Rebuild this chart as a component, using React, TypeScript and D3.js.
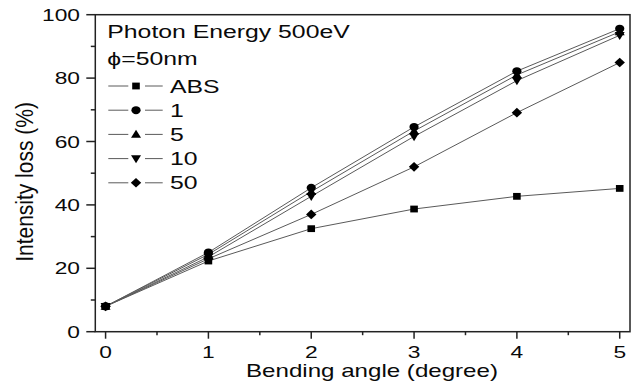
import * as d3 from 'd3'
import React, { useEffect, useRef } from 'react'

const angles = [0, 1, 2, 3, 4, 5]
const seriesNames = ['ABS', '1', '5', '10', '50']
const absLoss = [8.0, 22.3, 32.5, 38.7, 42.7, 45.2]
const loss1 = [8.0, 25.0, 45.4, 64.6, 82.2, 95.6]
const loss5 = [8.0, 24.4, 44.2, 63.3, 81.0, 94.6]
const loss10 = [8.0, 23.6, 42.7, 61.6, 79.2, 93.5]
const loss50 = [8.0, 23.0, 37.0, 52.0, 69.1, 84.9]
const xTicks = [0, 1, 2, 3, 4, 5]
const yTicks = [0, 20, 40, 60, 80, 100]

const symbols = ['square', 'circle', 'up', 'down', 'diamond']

const W = 640
const H = 387
const SX = 1.34 // the original picture is stretched horizontally
const FONT = '"Liberation Sans", Arial, sans-serif'

function drawMarker(g: any, kind: string, cx: number, cy: number) {
  if (kind === 'square') {
    g.append('rect').attr('x', cx - 3.8).attr('y', cy - 3.4).attr('width', 7.6).attr('height', 6.8).attr('fill', '#000')
  } else if (kind === 'circle') {
    g.append('ellipse').attr('cx', cx).attr('cy', cy).attr('rx', 4.6).attr('ry', 4).attr('fill', '#000')
  } else if (kind === 'up') {
    g.append('path').attr('d', `M${cx},${cy - 4.7}L${cx + 5},${cy + 3.4}L${cx - 5},${cy + 3.4}Z`).attr('fill', '#000')
  } else if (kind === 'down') {
    g.append('path').attr('d', `M${cx},${cy + 4.7}L${cx + 5},${cy - 3.4}L${cx - 5},${cy - 3.4}Z`).attr('fill', '#000')
  } else {
    g.append('path').attr('d', `M${cx},${cy - 4.8}L${cx + 5.2},${cy}L${cx},${cy + 4.8}L${cx - 5.2},${cy}Z`).attr('fill', '#000')
  }
}

function wideText(g: any, x: number, y: number, str: string, size: number, anchor = 'start') {
  return g.append('text')
    .attr('transform', `translate(${x},${y}) scale(${SX},1)`)
    .attr('text-anchor', anchor)
    .attr('font-family', FONT)
    .attr('font-size', size)
    .attr('fill', '#0a0a0a')
    .text(str)
}

export default function App() {
  const svgRef = useRef<SVGSVGElement>(null)

  useEffect(() => {
    if (!svgRef.current) return
    const svg = d3.select(svgRef.current)
    svg.selectAll('*').remove()

    const left = 95.3, right = 630, top = 14.7, bottom = 331.7

    const x = d3.scaleLinear().domain([-0.1, 5.1]).range([left, right])
    const y = d3.scaleLinear().domain([0, 100]).range([bottom, top])

    svg.append('rect').attr('width', W).attr('height', H).attr('fill', '#fff')

    const series = [absLoss, loss1, loss5, loss10, loss50]

    // lines
    const line = d3.line<number>()
      .x((_, i) => x(angles[i]))
      .y(d => y(d))

    series.forEach((vals) => {
      svg.append('path')
        .datum(vals)
        .attr('d', line)
        .attr('fill', 'none')
        .attr('stroke', '#5a5a5a')
        .attr('stroke-width', 1)
    })

    // markers
    series.forEach((vals, si) => {
      const g = svg.append('g')
      vals.forEach((v, i) => drawMarker(g, symbols[si], x(angles[i]), y(v)))
    })

    // frame
    svg.append('rect')
      .attr('x', left).attr('y', top)
      .attr('width', right - left).attr('height', bottom - top)
      .attr('fill', 'none').attr('stroke', '#222').attr('stroke-width', 1.5)

    // x ticks
    const ax = svg.append('g')
    d3.range(0, 5.01, 0.5).forEach(t => {
      const major = Math.abs(t - Math.round(t)) < 1e-6
      ax.append('line')
        .attr('x1', x(t)).attr('x2', x(t))
        .attr('y1', bottom).attr('y2', bottom + (major ? 7 : 3.5))
        .attr('stroke', '#222').attr('stroke-width', 1.5)
    })
    xTicks.forEach(t => wideText(ax, x(t), 358.3, String(t), 17, 'middle'))

    // y ticks
    const ay = svg.append('g')
    d3.range(0, 100.1, 10).forEach(t => {
      const major = t % 20 === 0
      ay.append('line')
        .attr('x1', left - (major ? 9 : 4.5)).attr('x2', left)
        .attr('y1', y(t)).attr('y2', y(t))
        .attr('stroke', '#222').attr('stroke-width', 1.5)
    })
    yTicks.forEach(t => wideText(ay, 80, y(t) + 6, String(t), 17, 'end'))

    // axis titles
    wideText(svg, 372, 377, 'Bending angle (degree)', 18, 'middle')
    svg.append('text')
      .attr('transform', `translate(33,182) rotate(-90) scale(1,1.15)`)
      .attr('text-anchor', 'middle')
      .attr('font-family', FONT)
      .attr('font-size', 21)
      .attr('fill', '#0a0a0a')
      .text('Intensity loss (%)')

    // legend
    const lg = svg.append('g')
    wideText(lg, 107.3, 38.3, 'Photon Energy 500eV', 18.5)
    wideText(lg, 107.3, 65, '\u03d5=50nm', 18.5)
    seriesNames.forEach((name, i) => {
      const cy = 86 + i * 24.2
      lg.append('line').attr('x1', 108.3).attr('x2', 128.3).attr('y1', cy).attr('y2', cy)
        .attr('stroke', '#5a5a5a').attr('stroke-width', 1)
      lg.append('line').attr('x1', 145).attr('x2', 162.7).attr('y1', cy).attr('y2', cy)
        .attr('stroke', '#5a5a5a').attr('stroke-width', 1)
      drawMarker(lg, symbols[i], 136, cy)
      wideText(lg, 170, cy + 6.6, name, 18.5)
    })
  }, [])

  return (
    <svg ref={svgRef} width={W} height={H}
      style={{ position: 'absolute', left: 0, top: 0, display: 'block' }} />
  )
}
